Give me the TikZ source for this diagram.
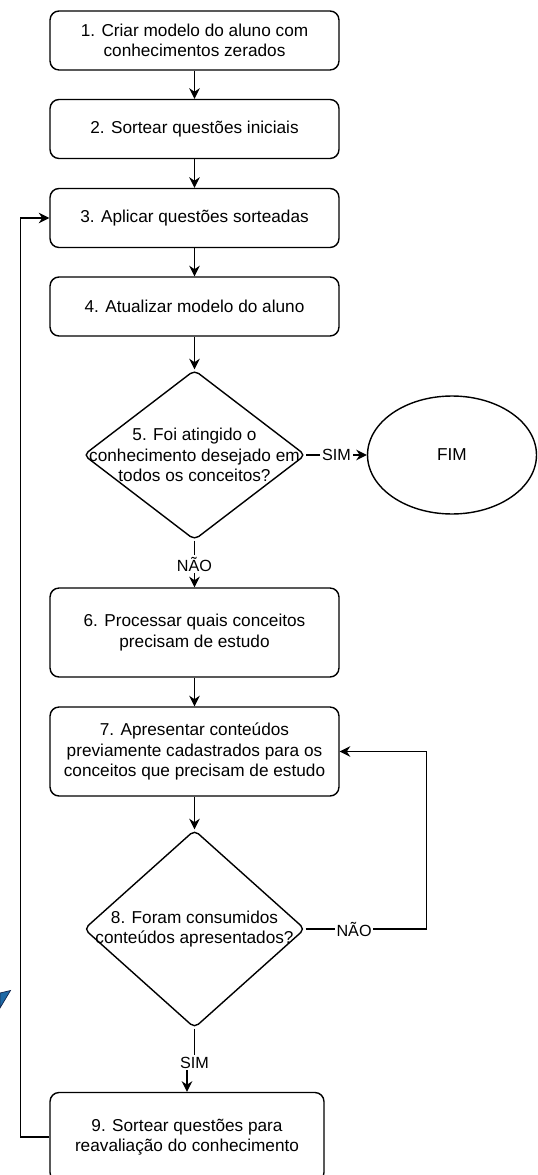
\documentclass[tikz,border=0pt]{standalone}
\usepackage{fontspec}
\setmainfont{Liberation Sans}
\usetikzlibrary{shapes.geometric, arrows.meta, positioning, calc}
\newcommand{\boxfont}{\fontsize{9.8}{11.6}\selectfont}
\newcommand{\lblfont}{\fontsize{9.2}{11}\selectfont}
\definecolor{artblue}{RGB}{30,105,165}
\definecolor{artnavy}{RGB}{20,40,80}
\tikzset{
    process/.style={rectangle, rounded corners=0.18cm, minimum width=5.78cm, minimum height=1.18cm, text centered, align=center, draw=black, line width=0.8pt, font=\boxfont, inner sep=0pt},
    tallprocess/.style={process, minimum height=1.78cm},
    decision/.style={diamond, rounded corners=3pt, minimum width=4.44cm, minimum height=3.4cm, draw=black, line width=0.8pt, inner sep=0pt},
    decisiontext/.style={align=center, font=\boxfont, inner sep=0pt},
    startstop/.style={ellipse, minimum width=3.38cm, minimum height=2.36cm, draw=black, line width=0.8pt, font=\boxfont},
    arrow/.style={line width=0.8pt, -{Stealth[length=6pt,width=6pt]}},
    edgelabel/.style={fill=white, inner sep=1pt, font=\lblfont}
}
\begin{document}
\begin{tikzpicture}[x=0.02cm, y=-0.02cm]
    \useasboundingbox (0,0) rectangle (537,1175);
    % Steps
    \node (criar) at (194.5,40.5) [process] {1. Criar modelo do aluno com\\conhecimentos zerados};
    \node (sortear) at (194.5,129) [process] {2. Sortear questões iniciais};
    \node (aplicar) at (194.5,218) [process] {3. Aplicar questões sorteadas};
    \node (atualizar) at (194.5,306.5) [process] {4. Atualizar modelo do aluno};
    \node (atingido) at (194.5,455) [decision, label={[decisiontext]center:5. Foi atingido o\\conhecimento desejado em\\todos os conceitos?}] {};
    \node (fim) at (452,455) [startstop] {FIM};
    \node (processar) at (194.5,632.5) [tallprocess] {6. Processar quais conceitos\\precisam de estudo};
    \node (apresentar) at (194.5,751.5) [tallprocess] {7. Apresentar conteúdos\\previamente cadastrados para os\\conceitos que precisam de estudo};
    \node (consumidos) at (194.5,929) [decision, minimum width=4.42cm, minimum height=3.96cm, label={[decisiontext]center:8. Foram consumidos\\conteúdos apresentados?}] {};
    \node (reavaliar) at (187,1137) [tallprocess, minimum width=5.48cm] {9. Sortear questões para\\reavaliação do conhecimento};

    % Flow
    \draw[arrow] (criar) -- (sortear);
    \draw[arrow] (sortear) -- (aplicar);
    \draw[arrow] (aplicar) -- (atualizar);
    \draw[arrow] (atualizar) -- (atingido);
    \draw[arrow] (atingido) -- node[edgelabel] {SIM} (fim);
    \draw[arrow] (atingido) -- node[edgelabel] {NÃO} (processar);
    \draw[arrow] (processar) -- (apresentar);
    \draw[arrow] (apresentar) -- (consumidos);
    \draw[arrow] (consumidos.east) -- node[edgelabel, pos=0.4] {NÃO} ++(121,0) |- (apresentar.east);
    \draw[arrow] (consumidos.south) -- ++(0,34) node[edgelabel] {SIM} -| (reavaliar.north);
    \draw[arrow] (reavaliar.west) -- ++(-29,0) |- (aplicar.west);

    % stray mark at the left edge
    \filldraw[fill=artblue, draw=artnavy, line width=0.4pt] (0,993) -- (10.5,990.5) -- (0,1008) -- cycle;
\end{tikzpicture}
\end{document}
